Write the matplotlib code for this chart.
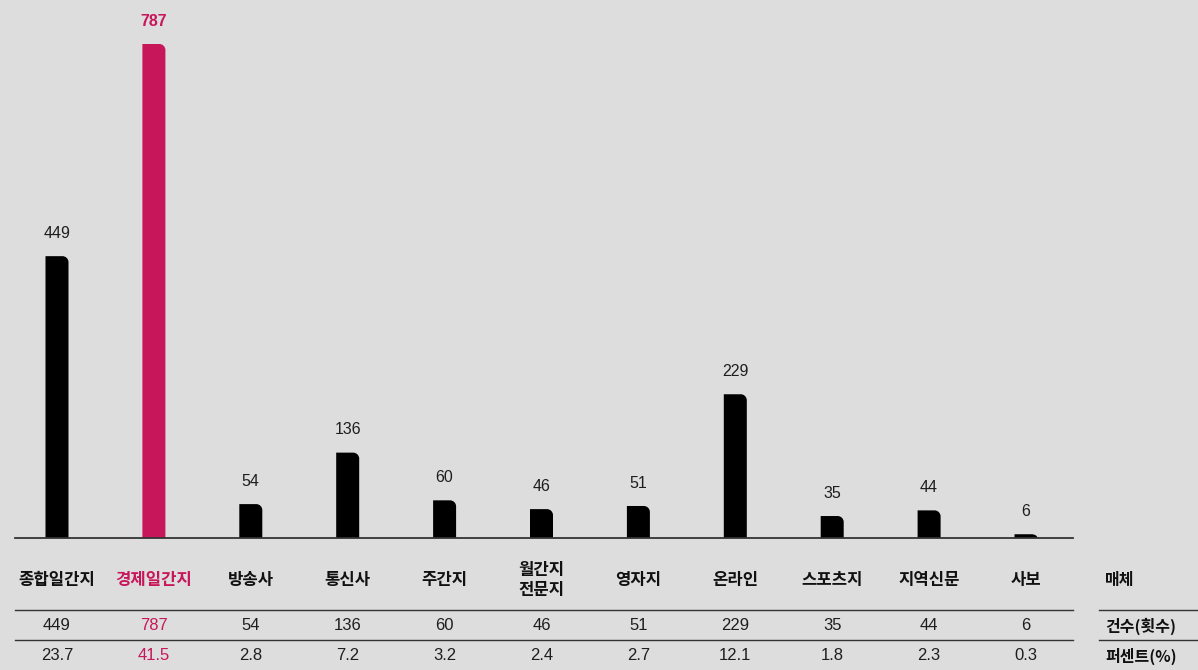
import numpy as np
import matplotlib.pyplot as plt
from matplotlib.path import Path
from matplotlib.patches import PathPatch
from matplotlib.transforms import blended_transform_factory

plt.rcParams['font.family'] = ['Noto Sans CJK KR', 'DejaVu Sans']
NUM_FONT = ['Liberation Sans', 'DejaVu Sans']

# 데이터
categories = ['종합일간지', '경제일간지', '방송사', '통신사', '주간지', '월간지\n전문지',
              '영자지', '온라인', '스포츠지', '지역신문', '사보']
counts = [449, 787, 54, 136, 60, 46, 51, 229, 35, 44, 6]
percents = ['23.7', '41.5', '2.8', '7.2', '3.2', '2.4', '2.7', '12.1', '1.8', '2.3', '0.3']
row_titles = ['매체', '건수(횟수)', '퍼센트(%)']
highlight = 1

BG = '#dcdddc'
PINK = '#c8165a'
TEXT = '#1e1e1e'
LINE = '#333333'

W, H = 1198, 670
fig = plt.figure(figsize=(W / 100, H / 100), dpi=100, facecolor=BG)

base_px = 538
ax = fig.add_axes([0, 1 - base_px / H, 1, base_px / H])
ax.set_facecolor(BG)
ymax = 787 * base_px / 494
step = 96.9
x0 = 57
ax.set_xlim(-x0 / step, (W - x0) / step)
ax.set_ylim(0, ymax)
ax.axis('off')

bar_w = 23 / step
rx = 6 / step
ry_unit = ymax / base_px


def rounded_bar(x, h, color):
    l, r = x - bar_w / 2, x + bar_w / 2
    ry = min(6 * ry_unit, h)
    k = 0.55
    verts = [(l, 0), (l, h), (r - rx, h),
             (r - rx + k * rx, h), (r, h - ry + k * ry), (r, h - ry),
             (r, 0), (l, 0)]
    codes = [Path.MOVETO, Path.LINETO, Path.LINETO,
             Path.CURVE4, Path.CURVE4, Path.CURVE4,
             Path.LINETO, Path.CLOSEPOLY]
    ax.add_patch(PathPatch(Path(verts, codes), facecolor=color, edgecolor='none'))


xs = np.arange(len(categories))
for i, (x, v) in enumerate(zip(xs, counts)):
    c = PINK if i == highlight else 'black'
    rounded_bar(x, v, c)
    ax.annotate(str(v), (x, v), xytext=(0, 16.5), textcoords='offset points',
                ha='center', va='center', fontsize=11.5, family=NUM_FONT,
                color=PINK if i == highlight else TEXT,
                fontweight='bold' if i == highlight else 'normal')

tr = blended_transform_factory(ax.transData, fig.transFigure)


def fy(px):
    return 1 - px / H


# 기준선, 표 선
fig.add_artist(plt.Line2D([15 / W, 1073 / W], [fy(538), fy(538)], color=LINE, lw=1.3))
for yy in [610, 640]:
    fig.add_artist(plt.Line2D([15 / W, 1073 / W], [fy(yy), fy(yy)], color=LINE, lw=1.0))
    fig.add_artist(plt.Line2D([1099 / W, 1], [fy(yy), fy(yy)], color=LINE, lw=1.0))

# 표
for i, x in enumerate(xs):
    c = PINK if i == highlight else TEXT
    ax.text(x, fy(580), categories[i], transform=tr, ha='center', va='center',
            fontsize=12, fontweight='bold', color=PINK if i == highlight else '#111111',
            linespacing=1.15)
    ax.text(x, fy(626), str(counts[i]), transform=tr, ha='center', va='center',
            fontsize=12, family=NUM_FONT, color=c)
    ax.text(x, fy(656), percents[i], transform=tr, ha='center', va='center',
            fontsize=12, family=NUM_FONT, color=c)

for t, yy in zip(row_titles, [580, 626, 656]):
    fig.text(1105 / W, fy(yy), t, ha='left', va='center', fontsize=11.5,
             fontweight='bold', color='#111111')

fig.savefig('out.png', dpi=100, facecolor=BG)
